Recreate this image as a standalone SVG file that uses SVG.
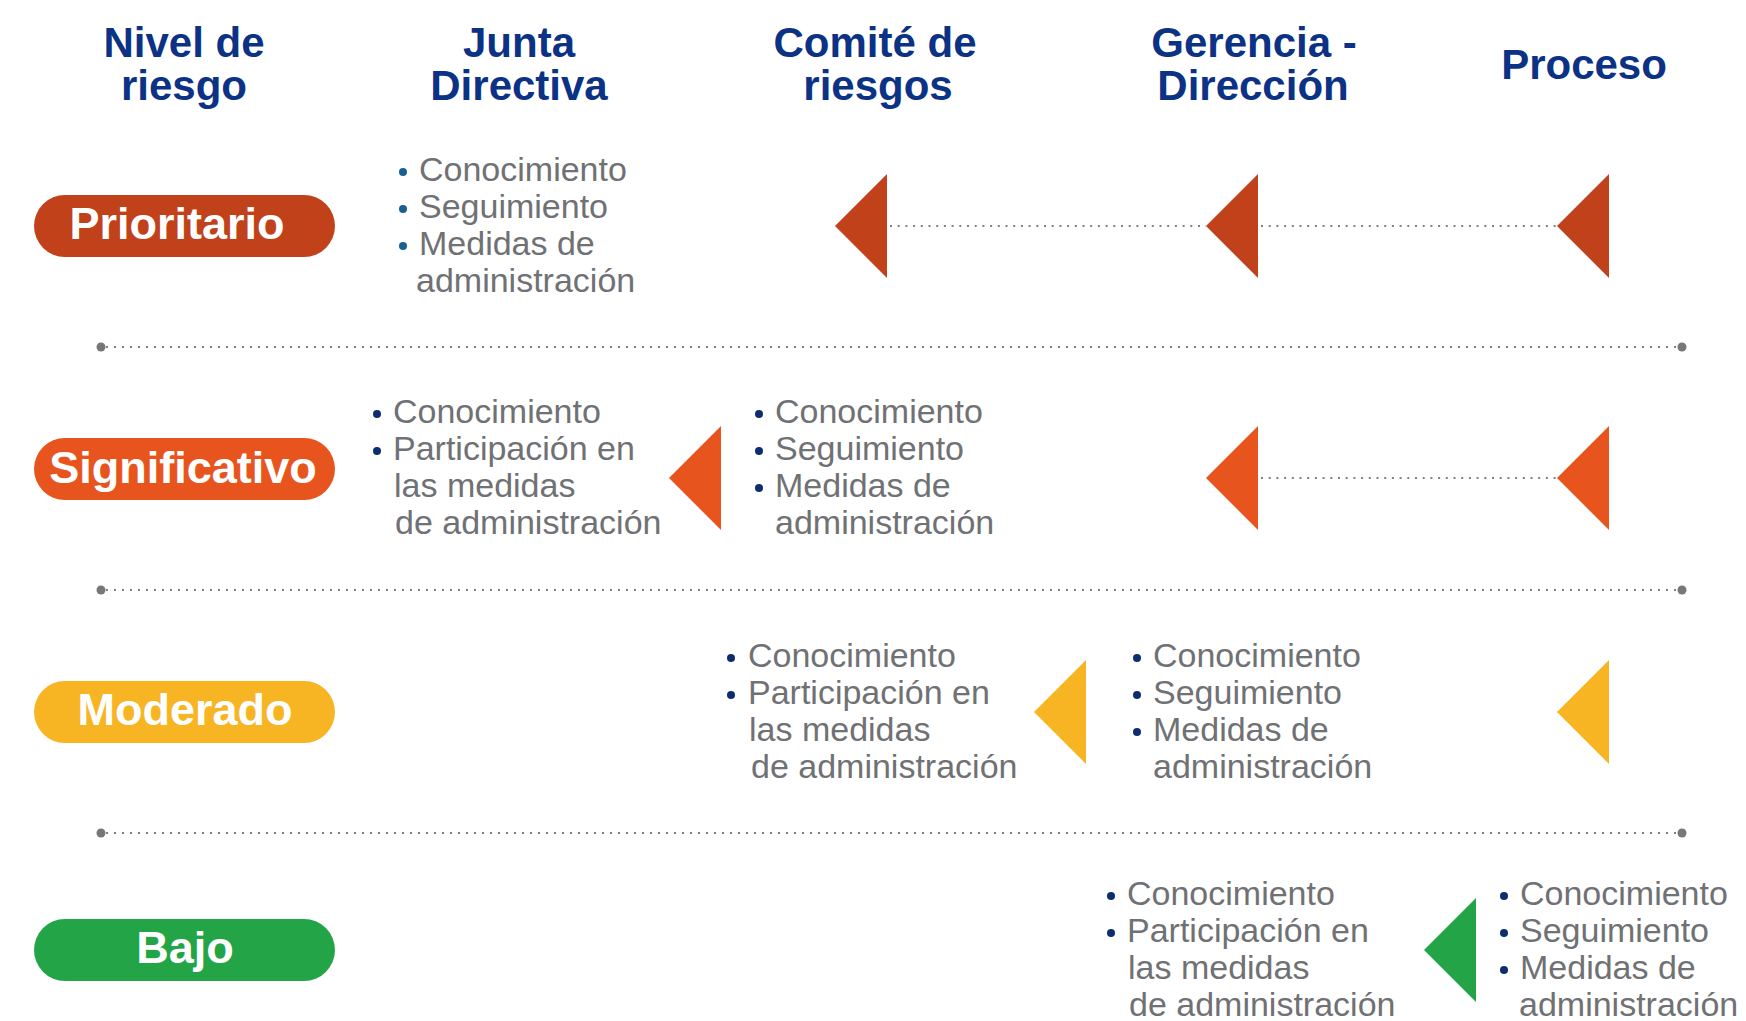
<svg xmlns="http://www.w3.org/2000/svg" width="1746" height="1021" viewBox="0 0 1746 1021">
<style>
.hd{font-family:"Liberation Sans",Arial,sans-serif;font-weight:bold;font-size:42px;fill:#0B3285;text-anchor:middle}
.pl{font-family:"Liberation Sans",Arial,sans-serif;font-weight:bold;font-size:45px;fill:#ffffff;text-anchor:middle}
.tx{font-family:"Liberation Sans",Arial,sans-serif;font-size:34px;fill:#707174}
.b1{fill:#17608F}
.b2{fill:#0D2D6E}
.sep{stroke:#808080;stroke-width:2;stroke-dasharray:2 6;fill:none}
.con{stroke:#808080;stroke-width:2;stroke-dasharray:2 5.7;fill:none}
.dot{fill:#777777}
</style>
<rect width="1746" height="1021" fill="#ffffff"/>

<g id="headers">
<text class="hd" x="184" y="57">Nivel de</text>
<text class="hd" x="184" y="100">riesgo</text>
<text class="hd" x="519" y="57">Junta</text>
<text class="hd" x="519" y="100">Directiva</text>
<text class="hd" x="875" y="57">Comité de</text>
<text class="hd" x="878" y="100">riesgos</text>
<text class="hd" x="1254" y="57">Gerencia -</text>
<text class="hd" x="1253" y="100">Dirección</text>
<text class="hd" x="1584" y="79">Proceso</text>
</g>

<g id="separators">
<line class="sep" x1="106" y1="347" x2="1678" y2="347"/>
<circle class="dot" cx="101" cy="347" r="4.5"/>
<circle class="dot" cx="1682" cy="347" r="4.5"/>
<line class="sep" x1="106" y1="590" x2="1678" y2="590"/>
<circle class="dot" cx="101" cy="590" r="4.5"/>
<circle class="dot" cx="1682" cy="590" r="4.5"/>
<line class="sep" x1="106" y1="833" x2="1678" y2="833"/>
<circle class="dot" cx="101" cy="833" r="4.5"/>
<circle class="dot" cx="1682" cy="833" r="4.5"/>
</g>

<g id="connectors">
<line class="con" x1="890" y1="226" x2="1206" y2="226"/>
<line class="con" x1="1261" y1="226" x2="1557" y2="226"/>
<line class="con" x1="1261" y1="478" x2="1557" y2="478"/>
</g>

<g id="pill-prioritario">
<rect x="34" y="195" width="301" height="62" rx="31" fill="#C1411A"/>
<text class="pl" x="177" y="239">Prioritario</text>
</g>
<g id="pill-significativo">
<rect x="34" y="438" width="301" height="62" rx="31" fill="#E8541E"/>
<text class="pl" x="183" y="483">Significativo</text>
</g>
<g id="pill-moderado">
<rect x="34" y="681" width="301" height="62" rx="31" fill="#F7B524"/>
<text class="pl" x="185" y="725">Moderado</text>
</g>
<g id="pill-bajo">
<rect x="34" y="919" width="301" height="62" rx="31" fill="#23A547"/>
<text class="pl" x="185" y="963">Bajo</text>
</g>

<g id="arrows-prioritario" fill="#C1411A">
<polygon points="835,226 887,174 887,278"/>
<polygon points="1206,226 1258,174 1258,278"/>
<polygon points="1557,226 1609,174 1609,278"/>
</g>
<g id="arrows-significativo" fill="#E8541E">
<polygon points="669,478 721,426 721,530"/>
<polygon points="1206,478 1258,426 1258,530"/>
<polygon points="1557,478 1609,426 1609,530"/>
</g>
<g id="arrows-moderado" fill="#F7B524">
<polygon points="1034,712 1086,660 1086,764"/>
<polygon points="1557,712 1609,660 1609,764"/>
</g>
<g id="arrows-bajo" fill="#23A547">
<polygon points="1424,950 1476,898 1476,1002"/>
</g>

<g id="list-prioritario-junta">
<circle class="b1" cx="403" cy="172" r="4"/>
<circle class="b1" cx="403" cy="209" r="4"/>
<circle class="b1" cx="403" cy="246" r="4"/>
<text class="tx" x="419" y="181">Conocimiento</text>
<text class="tx" x="419" y="218">Seguimiento</text>
<text class="tx" x="419" y="255">Medidas de</text>
<text class="tx" x="416" y="292">administración</text>
</g>

<g id="list-significativo-junta">
<circle class="b2" cx="377" cy="414" r="4"/>
<circle class="b2" cx="377" cy="451" r="4"/>
<text class="tx" x="393" y="423">Conocimiento</text>
<text class="tx" x="393" y="460">Participación en</text>
<text class="tx" x="394" y="497">las medidas</text>
<text class="tx" x="395" y="534">de administración</text>
</g>
<g id="list-significativo-comite">
<circle class="b2" cx="759" cy="414" r="4"/>
<circle class="b2" cx="759" cy="451" r="4"/>
<circle class="b2" cx="759" cy="488" r="4"/>
<text class="tx" x="775" y="423">Conocimiento</text>
<text class="tx" x="775" y="460">Seguimiento</text>
<text class="tx" x="775" y="497">Medidas de</text>
<text class="tx" x="775" y="534">administración</text>
</g>

<g id="list-moderado-comite">
<circle class="b2" cx="731" cy="658" r="4"/>
<circle class="b2" cx="731" cy="695" r="4"/>
<text class="tx" x="748" y="667">Conocimiento</text>
<text class="tx" x="748" y="704">Participación en</text>
<text class="tx" x="749" y="741">las medidas</text>
<text class="tx" x="751" y="778">de administración</text>
</g>
<g id="list-moderado-gerencia">
<circle class="b2" cx="1137" cy="658" r="4"/>
<circle class="b2" cx="1137" cy="695" r="4"/>
<circle class="b2" cx="1137" cy="732" r="4"/>
<text class="tx" x="1153" y="667">Conocimiento</text>
<text class="tx" x="1153" y="704">Seguimiento</text>
<text class="tx" x="1153" y="741">Medidas de</text>
<text class="tx" x="1153" y="778">administración</text>
</g>

<g id="list-bajo-gerencia">
<circle class="b2" cx="1111" cy="896" r="4"/>
<circle class="b2" cx="1111" cy="933" r="4"/>
<text class="tx" x="1127" y="905">Conocimiento</text>
<text class="tx" x="1127" y="942">Participación en</text>
<text class="tx" x="1128" y="979">las medidas</text>
<text class="tx" x="1129" y="1016">de administración</text>
</g>
<g id="list-bajo-proceso">
<circle class="b2" cx="1504" cy="896" r="4"/>
<circle class="b2" cx="1504" cy="933" r="4"/>
<circle class="b2" cx="1504" cy="970" r="4"/>
<text class="tx" x="1520" y="905">Conocimiento</text>
<text class="tx" x="1520" y="942">Seguimiento</text>
<text class="tx" x="1520" y="979">Medidas de</text>
<text class="tx" x="1519" y="1016">administración</text>
</g>
</svg>
